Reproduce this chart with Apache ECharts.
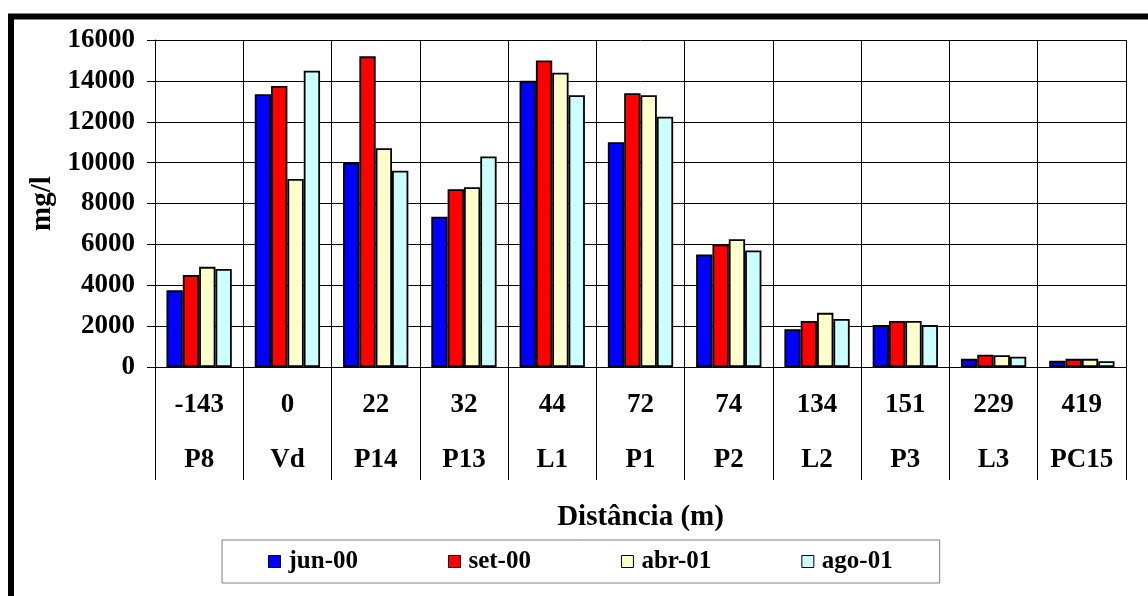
<!DOCTYPE html>
<html>
<head>
<meta charset="utf-8">
<title>Distância (m) – mg/l</title>
<script src="https://cdn.jsdelivr.net/npm/echarts@6/dist/echarts.min.js"></script>
<style>
  html, body { margin: 0; padding: 0; background: #ffffff; }
  #chart { width: 1148px; height: 596px; }
</style>
</head>
<body>
<div id="chart"></div>
<script>
// Sampling points and their distance along the section
const distances = ['-143', '0', '22', '32', '44', '72', '74', '134', '151', '229', '419'];
const points = ['P8', 'Vd', 'P14', 'P13', 'L1', 'P1', 'P2', 'L2', 'P3', 'L3', 'PC15'];

// Concentrations (mg/l) per campaign
const seriesNames = ['jun-00', 'set-00', 'abr-01', 'ago-01'];
const jun00 = [3750, 13350, 10000, 7350, 14000, 11000, 5500, 1850, 2050, 400, 300];
const set00 = [4500, 13750, 15200, 8700, 15000, 13400, 6000, 2250, 2250, 600, 400];
const abr01 = [4900, 9200, 10700, 8800, 14400, 13300, 6250, 2650, 2250, 580, 400];
const ago01 = [4800, 14500, 9600, 10300, 13300, 12250, 5700, 2350, 2050, 500, 280];

const seriesColors = ['#0000ff', '#ff0000', '#ffffcc', '#ccffff'];
const FONT = "'Liberation Serif', 'Times New Roman', serif";

const chart = echarts.init(document.getElementById('chart'), null, { renderer: 'canvas' });

const makeSeries = (name, data, color) => ({
  name: name,
  type: 'bar',
  data: data,
  barGap: '0%',
  barCategoryGap: '26%',
  itemStyle: { color: color, borderColor: '#000', borderWidth: 1.8 },
  emphasis: { disabled: true }
});

chart.setOption({
  backgroundColor: '#ffffff',
  animation: false,
  textStyle: { fontFamily: FONT },
  grid: { left: 155, right: 22, top: 40, bottom: 229, containLabel: false },
  xAxis: {
    type: 'category',
    data: points,
    name: 'Distância (m)',
    nameLocation: 'middle',
    nameGap: 136,
    nameTextStyle: { fontFamily: FONT, fontSize: 29, fontWeight: 'bold', color: '#000' },
    axisLine: { show: true, lineStyle: { color: '#000', width: 1 } },
    axisTick: { show: true, length: 113, lineStyle: { color: '#000', width: 1 } },
    splitLine: { show: true, lineStyle: { color: '#000', width: 1 } },
    axisLabel: {
      interval: 0,
      margin: 11,
      formatter: (value, index) => '{d|' + distances[index] + '}\n{p|' + value + '}',
      rich: {
        d: { fontFamily: FONT, fontSize: 27, fontWeight: 'bold', color: '#000', lineHeight: 55 },
        p: { fontFamily: FONT, fontSize: 27, fontWeight: 'bold', color: '#000', lineHeight: 55 }
      }
    }
  },
  yAxis: {
    type: 'value',
    min: 0,
    max: 16000,
    interval: 2000,
    name: 'mg/l',
    nameLocation: 'middle',
    nameRotate: 90,
    nameGap: 96,
    nameTextStyle: { fontFamily: FONT, fontSize: 29, fontWeight: 'bold', color: '#000' },
    axisLine: { show: true, lineStyle: { color: '#000', width: 1 } },
    axisTick: { show: true, length: 8, lineStyle: { color: '#000', width: 1 } },
    splitLine: { show: true, lineStyle: { color: '#000', width: 1 } },
    axisLabel: {
      margin: 20,
      formatter: (v) => String(v),
      fontFamily: FONT, fontSize: 27, fontWeight: 'bold', color: '#000'
    }
  },
  legend: {
    left: 222,
    top: 540,
    width: 717,
    data: seriesNames,
    icon: 'rect',
    itemWidth: 12,
    itemHeight: 12,
    itemGap: 90,
    padding: [9, 47, 9, 46],
    backgroundColor: '#ffffff',
    borderColor: '#808080',
    borderWidth: 1,
    borderRadius: 0,
    textStyle: { fontFamily: FONT, fontSize: 25, fontWeight: 'bold', color: '#000', padding: [0, 0, 0, 3] },
    itemStyle: { borderColor: '#000', borderWidth: 1 }
  },
  graphic: [
    // heavy frame along the left and top edges of the figure
    {
      type: 'polyline',
      silent: true,
      shape: { points: [[11, 600], [11, 16.5], [1152, 16.5]] },
      style: { stroke: '#000', lineWidth: 6, fill: null }
    }
  ],
  series: [
    makeSeries(seriesNames[0], jun00, seriesColors[0]),
    makeSeries(seriesNames[1], set00, seriesColors[1]),
    makeSeries(seriesNames[2], abr01, seriesColors[2]),
    makeSeries(seriesNames[3], ago01, seriesColors[3])
  ]
});
</script>
</body>
</html>
